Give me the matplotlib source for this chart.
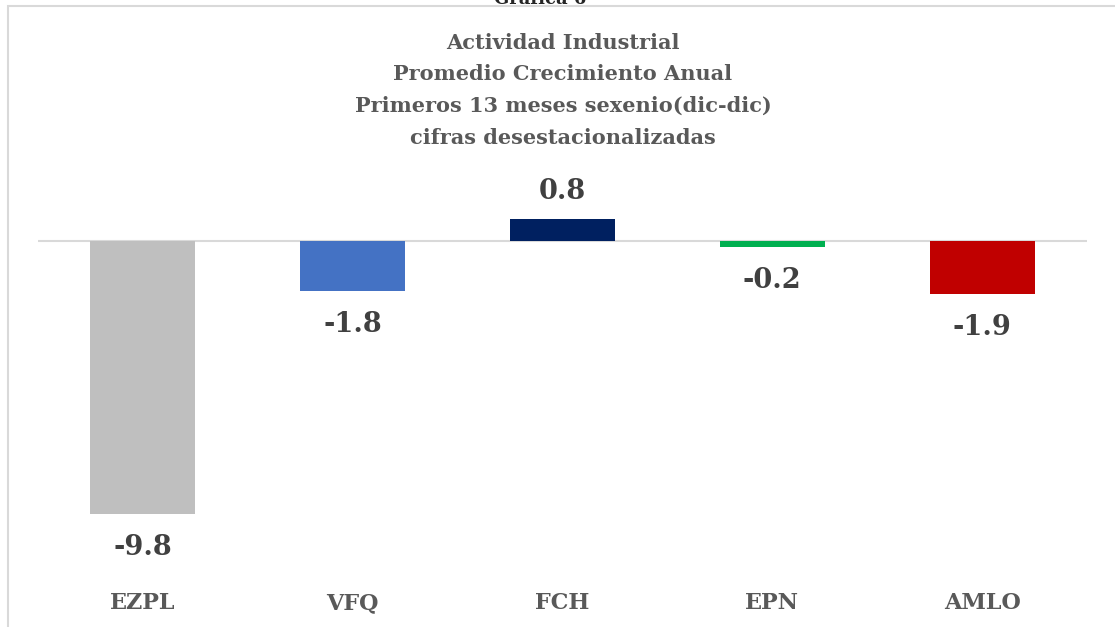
import matplotlib.pyplot as plt
from matplotlib.patches import Rectangle

# Data
categories = ['EZPL', 'VFQ', 'FCH', 'EPN', 'AMLO']
values = [-9.8, -1.8, 0.8, -0.2, -1.9]
colors = ['#bfbfbf', '#4472c4', '#002060', '#00b050', '#c00000']
title_lines = ['Actividad Industrial', 'Promedio Crecimiento Anual',
               'Primeros 13 meses sexenio(dic-dic)', 'cifras desestacionalizadas']

W, H = 1115, 627
plt.rcParams['font.family'] = ['DejaVu Serif']
fig = plt.figure(figsize=(W / 100, H / 100), dpi=100)

# outer frame (extends past right/bottom edges)
fig.patches.append(Rectangle((8 / W, -0.05), 1.2, 1 - 6 / H + 0.05,
                             transform=fig.transFigure, fill=False,
                             edgecolor='#d9d9d9', linewidth=1.5))
# cut-off heading at very top (cut off in the original too)
fig.text(540 / W, 1 - 4 / H, 'Gráfica 6', ha='center', va='baseline',
         fontsize=13, fontweight='bold', color='#262626')

# axes: x from 38 to 1087 px, y from 160 to 580 px; zero at 241
scale = 273 / 9.8
top_px, bot_px, zero_px = 160, 580, 241
ax = fig.add_axes([38 / W, 1 - bot_px / H, (1087 - 38) / W, (bot_px - top_px) / H])
ax.set_xlim(-0.5, len(categories) - 0.5)
ax.set_ylim(-(bot_px - zero_px) / scale, (zero_px - top_px) / scale)

x = range(len(categories))
ax.bar(x, values, width=0.5, color=colors, zorder=2)
ax.axhline(0, color='#d9d9d9', linewidth=1.5, zorder=1)

for xi, v in zip(x, values):
    off = 0.5 if v >= 0 else -0.72
    ax.text(xi, v + off, f'{v:.1f}', ha='center',
            va='bottom' if v >= 0 else 'top',
            fontsize=19.5, fontweight='bold', color='#404040')

for xi, c in zip(x, categories):
    fig.text((38 + (xi + 0.5) * (1049 / 5)) / W, 1 - 603 / H, c, ha='center', va='center',
             fontsize=16, fontweight='bold', color='#595959')

for i, line in enumerate(title_lines):
    fig.text(563 / W, 1 - (43 + i * 31.5) / H, line, ha='center', va='center',
             fontsize=15, fontweight='bold', color='#595959')

ax.axis('off')
fig.savefig('out.png', dpi=100)
